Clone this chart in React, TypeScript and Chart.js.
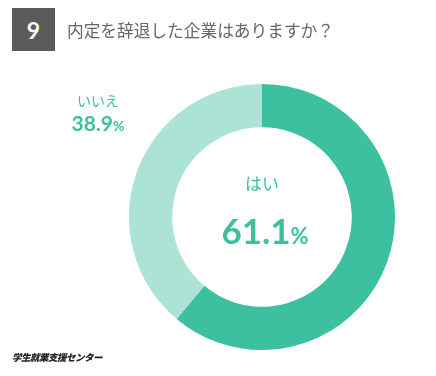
import React, { useEffect, useRef } from "react";
import { Chart, registerables } from "chart.js";

Chart.register(...registerables);

const categories = ["はい", "いいえ"];
const values = [61.1, 38.9];
const colors = ["#3cc09f", "#abe4d5"];
const questionNumber = "9";
const title = "内定を辞退した企業はありますか？";
const footer = "学生就業支援センター";

export default function App() {
  const ref = useRef<HTMLCanvasElement | null>(null);

  useEffect(() => {
    document.body.style.margin = "0";
    const ctx = ref.current!;
    const chart = new Chart(ctx, {
      type: "doughnut",
      data: {
        labels: categories,
        datasets: [
          {
            data: values,
            backgroundColor: colors,
            borderWidth: 0,
          },
        ],
      },
      options: {
        animation: false,
        responsive: false,
        cutout: "67.5%",
        layout: { padding: { left: 129, right: 41, top: 84, bottom: 26 } },
        plugins: {
          legend: { display: false },
          tooltip: { enabled: false },
        },
      },
    });
    return () => chart.destroy();
  }, []);

  const teal = "#3cc09f";
  const num = "Lato, 'Noto Sans', sans-serif";
  const jp = "'Noto Sans CJK JP', sans-serif";

  return (
    <div style={{ position: "relative", width: 436, height: 376, background: "#fff", overflow: "hidden" }}>
      <canvas ref={ref} width={436} height={376} style={{ position: "absolute", left: 0, top: 0 }} />
      <div
        style={{
          position: "absolute", left: 12, top: 8, width: 43, height: 43,
          background: "#5b5b5b", color: "#fff", fontFamily: num, fontSize: 23, fontWeight: 700,
          display: "flex", alignItems: "center", justifyContent: "center",
        }}
      >
        {questionNumber}
      </div>
      <div
        style={{
          position: "absolute", left: 67, top: 18, fontFamily: jp, fontSize: 16.7,
          color: "#666", lineHeight: "24px", whiteSpace: "nowrap",
        }}
      >
        {title}
      </div>
      <div style={{ position: "absolute", left: 48, width: 100, top: 89, textAlign: "center", fontFamily: jp, fontSize: 14, color: teal, lineHeight: "22px" }}>
        {categories[1]}
      </div>
      <div style={{ position: "absolute", left: 48, width: 100, top: 109, textAlign: "center", fontFamily: num, fontWeight: 700, fontSize: 21, color: teal, lineHeight: "28px" }}>
        {values[1].toFixed(1)}<span style={{ fontSize: 14 }}>%</span>
      </div>
      <div style={{ position: "absolute", left: 212, width: 100, top: 171, textAlign: "center", fontFamily: jp, fontSize: 17, color: teal, lineHeight: "24px" }}>
        {categories[0]}
      </div>
      <div style={{ position: "absolute", left: 190, width: 150, top: 208, textAlign: "center", fontFamily: num, fontWeight: 700, fontSize: 35, color: teal, lineHeight: "44px" }}>
        {values[0].toFixed(1)}<span style={{ fontSize: 22 }}>%</span>
      </div>
      <div style={{ position: "absolute", left: 12, top: 350, fontFamily: jp, fontWeight: 900, fontStyle: "italic", fontSize: 9.5, color: "#222", lineHeight: "14px", whiteSpace: "nowrap", letterSpacing: -0.5 }}>
        {footer}
      </div>
    </div>
  );
}
